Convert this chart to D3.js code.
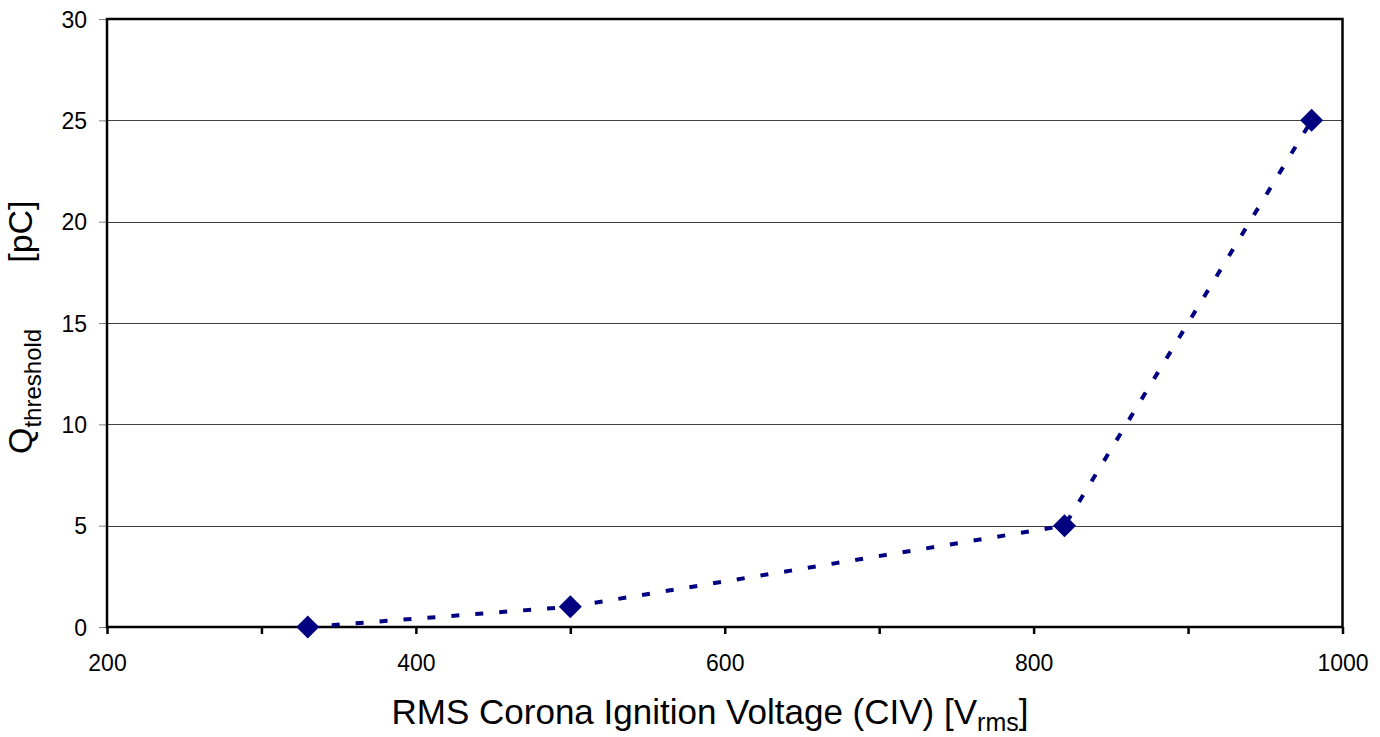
<!DOCTYPE html>
<head>
   <meta charset="utf-8">
   <script src="https://d3js.org/d3.v7.min.js"></script>
   <style>
   body{ margin: 0; background: #ffffff; }
   text{
      font-family: "Liberation Sans", Arial, sans-serif;
      fill: #000000;
   }
   .tick text{ font-size: 23px; }
   .yAxis .tick line{ stroke: #808080; }
   .xAxis .tick line{ stroke: #000000; stroke-width: 2.5px; }
   path.domain{ display: none; }
   .grid line{ stroke: #404040; stroke-width: 1px; shape-rendering: crispEdges; }
   text.axisTitle{ font-size: 34px; }
   </style>
</head>

<body>
   <script>
var width = 1380;
var height = 737;

const margin = { top: 19, right: 37.5, bottom: 110, left: 107 };

// data
var civ = [330, 500, 820, 980];
var qThreshold = [0, 1, 5, 25];
var xTicks = [200, 300, 400, 500, 600, 700, 800, 900, 1000];
var yTicks = [0, 5, 10, 15, 20, 25, 30];

var points = civ.map((v, i) => ({ x: v, y: qThreshold[i] }));

var svg = d3.select("body").append("svg")
   .attr("width", width)
   .attr("height", height);

let x = d3.scaleLinear()
   .domain([200, 1000])
   .range([margin.left, width - margin.right]);

let y = d3.scaleLinear()
   .domain([0, 30])
   .range([height - margin.bottom, margin.top]);

// horizontal gridlines
svg.append('g')
   .attr('class', 'grid')
   .selectAll('line')
   .data(yTicks.filter(d => d > 0 && d < 30))
   .enter()
   .append('line')
   .attr('x1', x(200))
   .attr('x2', x(1000))
   .attr('y1', d => Math.round(y(d)) + 0.5)
   .attr('y2', d => Math.round(y(d)) + 0.5);

let xAxis = d3.axisBottom(x)
   .tickValues(xTicks)
   .tickSize(7)
   .tickPadding(21)
   .tickFormat(d => d % 200 == 0 ? d : '');

svg.append('g')
   .attr('class', 'axis xAxis')
   .attr('transform', `translate(0, ${y(0)})`)
   .call(xAxis);

let yAxis = d3.axisLeft(y)
   .tickValues(yTicks)
   .tickSize(8)
   .tickPadding(12)
   .tickFormat(d => d);

svg.append('g')
   .attr('class', 'axis yAxis')
   .attr('transform', `translate(${x(200)}, 0)`)
   .call(yAxis);

svg.selectAll('.yAxis .tick text').attr('dy', '0.36em');

// plot frame
svg.append('rect')
   .attr('x', x(200))
   .attr('y', y(30))
   .attr('width', x(1000) - x(200))
   .attr('height', y(0) - y(30))
   .style('fill', 'none')
   .style('stroke', '#000000')
   .style('stroke-width', 2.5);

// dashed line, straight segments
let line = d3.line()
   .x(d => x(d.x))
   .y(d => y(d.y));

svg.append('path')
   .datum(points)
   .attr('d', line)
   .style('fill', 'none')
   .style('stroke', '#000080')
   .style('stroke-width', 4)
   .style('stroke-dasharray', '8,16');

svg.selectAll('path.marker')
   .data(points)
   .enter()
   .append('path')
   .attr('class', 'marker')
   .attr('d', d3.symbol(d3.symbolSquare, 265))
   .attr('transform', d => `translate(${x(d.x)},${y(d.y)}) rotate(45)`)
   .style('fill', '#000080');

// axis titles
let xTitle = svg.append('text')
   .attr('class', 'axisTitle')
   .attr('x', 710)
   .attr('y', 724)
   .style('font-size', '35px')
   .style('text-anchor', 'middle');
xTitle.append('tspan').text('RMS Corona Ignition Voltage (CIV) [V');
xTitle.append('tspan').attr('dy', 7).style('font-size', '25px').text('rms');
xTitle.append('tspan').attr('dy', -7).text(']');

let yTitle = svg.append('text')
   .attr('class', 'axisTitle')
   .attr('transform', 'translate(32, 454) rotate(-90)')
   .style('text-anchor', 'start');
yTitle.append('tspan').text('Q');
yTitle.append('tspan').attr('dy', 9).style('font-size', '24px').text('threshold');
yTitle.append('tspan').attr('dy', -9).attr('dx', 66).text('[pC]');

   </script>
</body>
